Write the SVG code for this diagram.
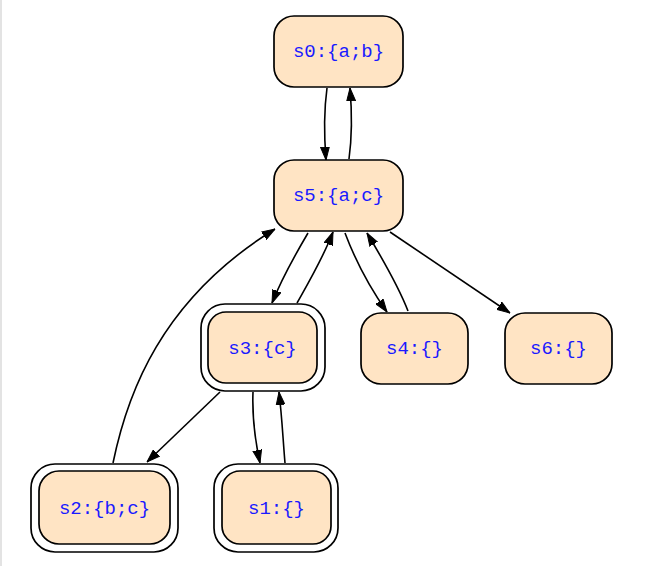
<svg xmlns="http://www.w3.org/2000/svg" width="665" height="566" viewBox="0 0 665 566">
<style>
.node rect.b{fill:#ffe4c4;stroke:#000;stroke-width:1.7}
.node rect.o{fill:none;stroke:#000;stroke-width:1.7}
.node text{font-family:"Liberation Mono","Courier New",monospace;font-size:19px;fill:#1a1aff;text-anchor:middle}
#edges path{fill:none;stroke:#000;stroke-width:1.6;marker-end:url(#arr)}
</style>
<defs>
<marker id="arr" viewBox="0 0 13 10" refX="13" refY="5" markerWidth="13" markerHeight="10" markerUnits="userSpaceOnUse" orient="auto">
<path d="M0,0.6 L13,5 L0,9.4 z" fill="#000" stroke="#000" stroke-width="1"/>
</marker>
</defs>
<rect x="0" y="0" width="665" height="566" fill="#fff"/>
<line x1="1" y1="0" x2="1" y2="566" stroke="#e3e3e3" stroke-width="2"/>
<g id="edges">
<path d="M327,88 C324,110 324,135 326,160"/>
<path d="M349,159 C352,137 352,112 350,88"/>
<path d="M308,233 C295,255 282,278 272,303"/>
<path d="M297,303 C310,280 323,258 333,232"/>
<path d="M345,233 C356,262 370,288 387,312"/>
<path d="M408,311 C398,285 382,258 367,233"/>
<path d="M390,232 L510,313"/>
<path d="M113,463 C127,395 160,300 275,229"/>
<path d="M220,392 L147,462"/>
<path d="M253,392 C252,417 255,440 260,463"/>
<path d="M285,463 C283,440 282,417 279,392"/>
</g>
<g id="s0" class="node"><rect class="b" x="274" y="16" width="129" height="71" rx="20"/><text x="338.5" y="57">s0:{a;b}</text></g>
<g id="s5" class="node"><rect class="b" x="274" y="160" width="129" height="71" rx="20"/><text x="338.5" y="201">s5:{a;c}</text></g>
<g id="s3" class="node"><rect class="o" x="201" y="304" width="124" height="87" rx="24"/><rect class="b" x="208" y="312" width="109" height="71" rx="18"/><text x="262.5" y="354">s3:{c}</text></g>
<g id="s4" class="node"><rect class="b" x="361" y="313" width="107" height="71" rx="20"/><text x="414.5" y="354">s4:{}</text></g>
<g id="s6" class="node"><rect class="b" x="505" y="313" width="107" height="71" rx="20"/><text x="558.5" y="354">s6:{}</text></g>
<g id="s2" class="node"><rect class="o" x="31" y="464" width="147" height="88" rx="24"/><rect class="b" x="39" y="471" width="131" height="73" rx="20"/><text x="104.5" y="514">s2:{b;c}</text></g>
<g id="s1" class="node"><rect class="o" x="214" y="464" width="124" height="88" rx="24"/><rect class="b" x="222" y="471" width="109" height="73" rx="18"/><text x="276.5" y="514">s1:{}</text></g>
</svg>
